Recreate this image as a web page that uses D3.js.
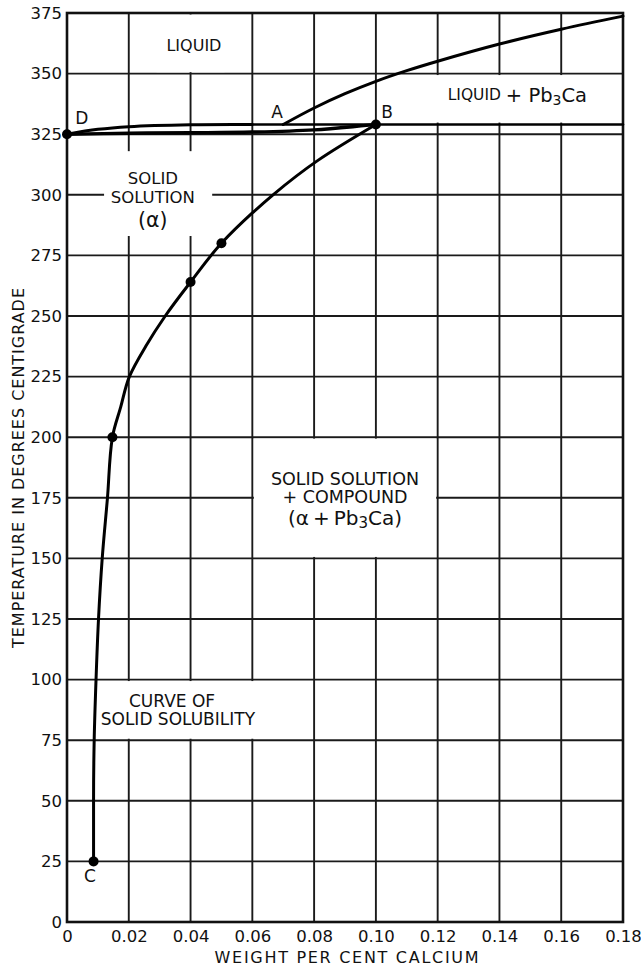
<!DOCTYPE html>
<html>
<head>
<meta charset="utf-8">
<script src="https://cdn.jsdelivr.net/npm/d3@7/dist/d3.min.js"></script>
<style>
  html, body { margin: 0; padding: 0; background: #fff; }
  svg { display: block; }
  text { font-family: "DejaVu Sans", sans-serif; fill: #111; }
</style>
</head>
<body>
<svg id="chart" width="641" height="967"></svg>
<script>
// ---------- data ----------
const xTicks = [0, 0.02, 0.04, 0.06, 0.08, 0.10, 0.12, 0.14, 0.16, 0.18];
const xTickLabels = ["0", "0.02", "0.04", "0.06", "0.08", "0.10", "0.12", "0.14", "0.16", "0.18"];
const yTicks = [0, 25, 50, 75, 100, 125, 150, 175, 200, 225, 250, 275, 300, 325, 350, 375];

// solid solubility curve, from B down to C
const solvus = [[0.10, 329], [0.081, 314], [0.0667, 300], [0.06, 292.5], [0.05, 280], [0.04, 264],
  [0.0318, 250], [0.0255, 237.5], [0.0202, 225], [0.0174, 212.5], [0.0147, 200], [0.0131, 175],
  [0.0114, 150], [0.0102, 125], [0.0094, 100], [0.0088, 75], [0.0086, 50], [0.0086, 25]];
// liquidus from D
const liquidusD = [[0, 325], [0.01, 327], [0.02, 328.1], [0.04, 328.9], [0.06, 329]];
// eutectic horizontal
const eutectic = [[0.06, 329], [0.18, 329]];
// solidus D to B
const solidus = [[0, 325], [0.02, 325.4], [0.04, 325.6], [0.06, 325.9], [0.08, 326.8], [0.10, 329]];
// liquidus of Pb3Ca from A
const liquidusA = [[0.07, 329], [0.08, 335.8], [0.09, 341.7], [0.10, 346.8], [0.11, 351.2],
  [0.12, 355.1], [0.14, 362.2], [0.16, 368.3], [0.18, 373.7]];
// measured points
const dots = [[0, 325], [0.10, 329], [0.05, 280], [0.04, 264], [0.0147, 200], [0.0086, 25]];
const pointLetters = ["D", "B", "C", "A"];

// ---------- layout ----------
const mLeft = 67, mRight = 623, mTop = 13, mBottom = 922;
const svg = d3.select("#chart");
const x = d3.scaleLinear().domain([0, 0.18]).range([mLeft, mRight]);
const y = d3.scaleLinear().domain([0, 375]).range([mBottom, mTop]);

// grid
const grid = svg.append("g").attr("stroke", "#1a1a1a").attr("stroke-width", 1.9);
grid.selectAll("line.v").data(xTicks.slice(1, -1)).join("line").attr("class", "v")
  .attr("x1", d => x(d)).attr("x2", d => x(d)).attr("y1", y(0)).attr("y2", y(375));
grid.selectAll("line.h").data(yTicks.slice(1, -1)).join("line").attr("class", "h")
  .attr("x1", x(0)).attr("x2", x(0.18)).attr("y1", d => y(d)).attr("y2", d => y(d));

// white label boxes interrupting the grid (data units)
const boxes = [
  [0.029, 0.051, 350.6, 374.4],
  [0.105, 0.175, 329.8, 349.4],
  [0.012, 0.047, 283, 318],
  [0.0605, 0.1195, 150.6, 199.4],
  [0.0105, 0.0795, 75.6, 99.4]
];
svg.append("g").selectAll("rect").data(boxes).join("rect")
  .attr("x", d => x(d[0])).attr("width", d => x(d[1]) - x(d[0]))
  .attr("y", d => y(d[3])).attr("height", d => y(d[2]) - y(d[3]))
  .attr("fill", "#fff");

// frame
svg.append("rect").attr("x", x(0)).attr("y", y(375))
  .attr("width", x(0.18) - x(0)).attr("height", y(0) - y(375))
  .attr("fill", "none").attr("stroke", "#111").attr("stroke-width", 2.6);

// axes tick labels
const xAxis = d3.axisBottom(x).tickValues(xTicks).tickSize(0).tickPadding(8)
  .tickFormat((d, i) => xTickLabels[i]);
const gx = svg.append("g").attr("transform", `translate(0,${mBottom})`).call(xAxis);
gx.select(".domain").remove();
gx.selectAll("text").style("font-size", "16.5px").style("font-family", "DejaVu Sans").attr("fill", "#111");

const yAxis = d3.axisLeft(y).tickValues(yTicks).tickSize(0).tickPadding(5).tickFormat(d => String(d));
const gy = svg.append("g").attr("transform", `translate(${mLeft},0)`).call(yAxis);
gy.select(".domain").remove();
gy.selectAll("text").style("font-size", "16.5px").style("font-family", "DejaVu Sans").attr("fill", "#111");

// axis titles
svg.append("text").attr("x", x(0.0905)).attr("y", 957).attr("text-anchor", "middle")
  .attr("dominant-baseline", "central").style("font-size", "16px")
  .attr("textLength", 264).attr("lengthAdjust", "spacing")
  .text("WEIGHT  PER  CENT  CALCIUM");
svg.append("text").attr("transform", "translate(18,468) rotate(-90)").attr("text-anchor", "middle")
  .attr("dominant-baseline", "central").style("font-size", "16px")
  .attr("textLength", 360).attr("lengthAdjust", "spacing")
  .text("TEMPERATURE  IN  DEGREES  CENTIGRADE");

// curves
const line = d3.line().x(d => x(d[0])).y(d => y(d[1]));
const smooth = d3.line().x(d => x(d[0])).y(d => y(d[1])).curve(d3.curveCatmullRom.alpha(0.5));
const smoothY = d3.line().x(d => x(d[0])).y(d => y(d[1])).curve(d3.curveMonotoneY);
const curves = svg.append("g").attr("fill", "none").attr("stroke", "#000").attr("stroke-linecap", "round");
curves.append("path").attr("d", smoothY(solvus)).attr("stroke-width", 3);
curves.append("path").attr("d", smooth(liquidusD)).attr("stroke-width", 3);
curves.append("path").attr("d", line(eutectic)).attr("stroke-width", 2.6);
curves.append("path").attr("d", smooth(solidus)).attr("stroke-width", 3.4);
curves.append("path").attr("d", smooth(liquidusA)).attr("stroke-width", 3);

svg.append("g").selectAll("circle").data(dots).join("circle")
  .attr("cx", d => x(d[0])).attr("cy", d => y(d[1])).attr("r", 5).attr("fill", "#000");

// point letters
const letterPos = [[0.0048, 331.8], [0.1036, 334.2], [0.0074, 19], [0.068, 334.2]];
svg.append("g").selectAll("text").data(pointLetters).join("text")
  .attr("x", (d, i) => x(letterPos[i][0])).attr("y", (d, i) => y(letterPos[i][1]))
  .attr("text-anchor", "middle").attr("dominant-baseline", "central")
  .style("font-size", "17px").text(d => d);

// region labels
function label(xv, tv, size, parts) {
  const t = svg.append("text").attr("x", x(xv)).attr("y", y(tv))
    .attr("text-anchor", "middle").attr("dominant-baseline", "central");
  parts.forEach(p => {
    const s = t.append("tspan").text(p.t).style("font-size", (p.s || size) + "px");
    if (p.dy) s.attr("dy", p.dy);
  });
  return t;
}
label(0.0411, 361.8, 16, [{t: "LIQUID"}]);
label(0.1458, 341.2, 15.5, [{t: "LIQUID "}, {t: "+ Pb", s: 19.5}, {t: "3", s: 14, dy: 5}, {t: "Ca", s: 19.5, dy: -5}]);
label(0.0278, 306.9, 16.5, [{t: "SOLID"}]);
label(0.0278, 299.0, 16.5, [{t: "SOLUTION"}]);
label(0.0278, 289.6, 20.5, [{t: "(α)"}]);
label(0.0900, 182.8, 17.5, [{t: "SOLID SOLUTION"}]);
label(0.0900, 175.3, 17.5, [{t: "+ COMPOUND"}]);
label(0.0900, 166.5, 20, [{t: "(α\u2009+\u2009Pb"}, {t: "3", s: 15, dy: 5}, {t: "Ca)", s: 20, dy: -5}]);
label(0.0340, 91.2, 17, [{t: "CURVE OF"}]);
label(0.0359, 83.7, 17, [{t: "SOLID SOLUBILITY"}]);
</script>
</body>
</html>
